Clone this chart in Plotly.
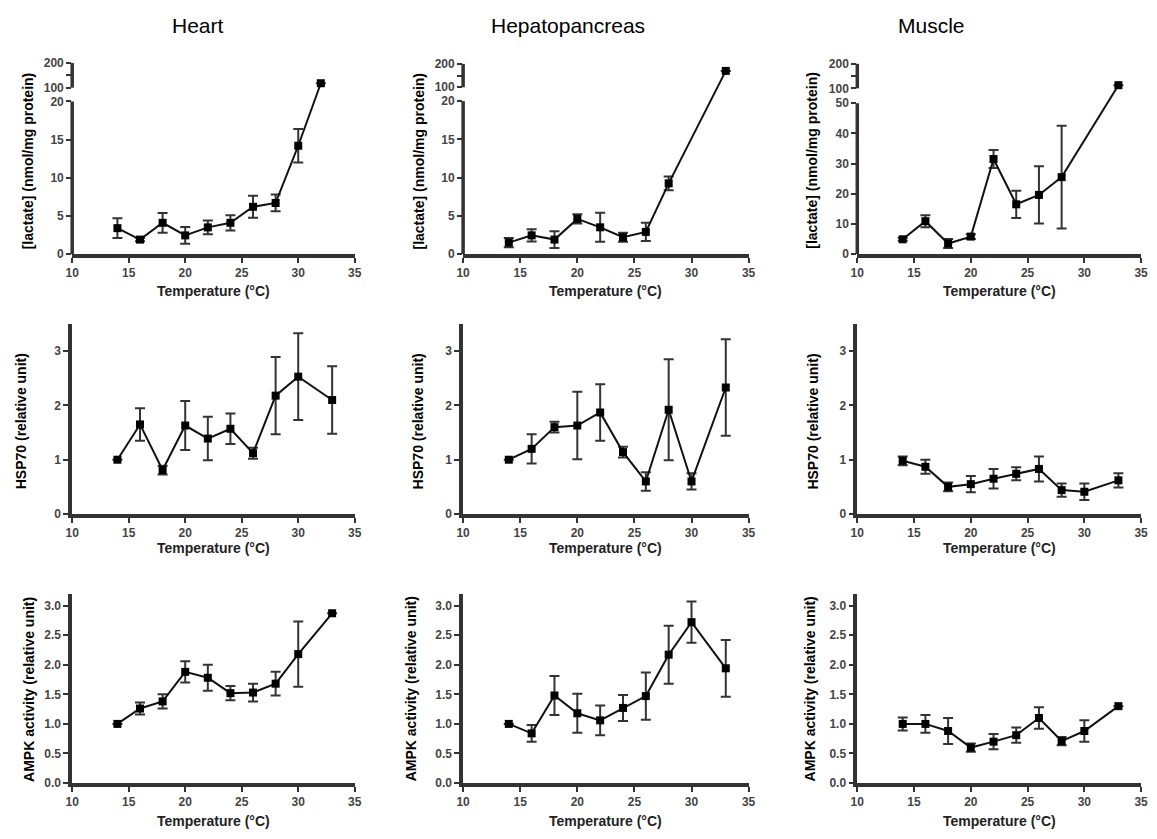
import plotly.graph_objects as go

W, H = 1157, 839

# ---------------- data ----------------
temps_std = [14, 16, 18, 20, 22, 24, 26, 28, 30, 33]

heart_lac_t = [14, 16, 18, 20, 22, 24, 26, 28, 30, 32]
heart_lac = [3.4, 1.9, 4.1, 2.45, 3.5, 4.1, 6.2, 6.7, 14.2, 118]
heart_lac_err = [1.3, 0.2, 1.3, 1.1, 0.9, 1.0, 1.45, 1.1, 2.2, 0]

hep_lac_t = [14, 16, 18, 20, 22, 24, 26, 28, 33]
hep_lac = [1.5, 2.45, 1.9, 4.6, 3.5, 2.2, 2.9, 9.25, 170]
hep_lac_err = [0.6, 0.8, 1.1, 0.6, 1.9, 0.6, 1.2, 0.9, 0]

mus_lac_t = [14, 16, 18, 20, 22, 24, 26, 28, 33]
mus_lac = [4.9, 10.9, 3.5, 5.8, 31.5, 16.5, 19.6, 25.5, 113]
mus_lac_err = [0.5, 2.0, 1.5, 0.8, 3.0, 4.5, 9.5, 17.0, 0]

heart_hsp = [1.0, 1.65, 0.81, 1.63, 1.39, 1.57, 1.12, 2.18, 2.53, 2.1]
heart_hsp_err = [0, 0.3, 0.08, 0.45, 0.4, 0.28, 0.1, 0.71, 0.8, 0.62]
hep_hsp = [1.0, 1.2, 1.6, 1.63, 1.87, 1.14, 0.6, 1.92, 0.6, 2.33]
hep_hsp_err = [0, 0.27, 0.1, 0.62, 0.52, 0.1, 0.17, 0.93, 0.15, 0.89]
mus_hsp = [0.98, 0.87, 0.5, 0.55, 0.65, 0.74, 0.83, 0.44, 0.41, 0.62]
mus_hsp_err = [0.08, 0.13, 0.08, 0.15, 0.18, 0.12, 0.23, 0.12, 0.15, 0.13]

heart_ampk = [1.0, 1.26, 1.38, 1.88, 1.78, 1.52, 1.53, 1.68, 2.18, 2.87]
heart_ampk_err = [0, 0.1, 0.12, 0.18, 0.22, 0.12, 0.15, 0.2, 0.55, 0]
hep_ampk = [1.0, 0.84, 1.48, 1.18, 1.06, 1.27, 1.47, 2.17, 2.72, 1.94]
hep_ampk_err = [0, 0.14, 0.33, 0.33, 0.25, 0.22, 0.4, 0.49, 0.35, 0.48]
mus_ampk = [1.0, 1.0, 0.88, 0.6, 0.7, 0.81, 1.1, 0.71, 0.88, 1.3]
mus_ampk_err = [0.11, 0.15, 0.22, 0.07, 0.13, 0.13, 0.18, 0.07, 0.18, 0]

col_titles = ["Heart", "Hepatopancreas", "Muscle"]
x_title = "Temperature (°C)"
y_titles = ["[lactate] (nmol/mg protein)", "HSP70 (relative unit)", "AMPK activity (relative unit)"]
x_ticks = [10, 15, 20, 25, 30, 35]

# ---------------- layout geometry (px) ----------------
col_x = [(66, 352), (461.7, 750.7), (860.7, 1148)]
row_y = [(57, 252), (323, 516), (597, 789.3)]
ytitle_x = [[21, 417, 814], [15, 417, 816], [23, 409, 813]]
ytitle_y = [157, 422, 694]
xtitle_y = [289, 551, 828]

AX = "#333333"
TICKFONT = dict(family="Liberation Sans, Arial, sans-serif", size=12, color="#444444", weight="bold")


def breaker(lo_max, gap, up_lo, up_per100):
    def f(v):
        return v if v <= lo_max else lo_max + gap + (v - up_lo) * up_per100 / 100.0
    return f


# broken-axis definitions for lactate row
breaks = [
    dict(f=breaker(20, 1.81, 100, 3.23), top=25.16, lo_max=20, lo_ticks=[0, 5, 10, 15, 20]),
    dict(f=breaker(20, 1.81, 100, 3.06), top=25.1, lo_max=20, lo_ticks=[0, 5, 10, 15, 20]),
    dict(f=breaker(50, 4.9, 100, 8.15), top=63.6, lo_max=50, lo_ticks=[0, 10, 20, 30, 40, 50]),
]

panels = [
    # row 0 lactate
    (0, 0, heart_lac_t, heart_lac, heart_lac_err),
    (0, 1, hep_lac_t, hep_lac, hep_lac_err),
    (0, 2, mus_lac_t, mus_lac, mus_lac_err),
    (1, 0, temps_std, heart_hsp, heart_hsp_err),
    (1, 1, temps_std, hep_hsp, hep_hsp_err),
    (1, 2, temps_std, mus_hsp, mus_hsp_err),
    (2, 0, temps_std, heart_ampk, heart_ampk_err),
    (2, 1, temps_std, hep_ampk, hep_ampk_err),
    (2, 2, temps_std, mus_ampk, mus_ampk_err),
]

fig = go.Figure()
layout = dict(
    width=W, height=H,
    margin=dict(l=0, r=0, t=0, b=0),
    paper_bgcolor="white", plot_bgcolor="white",
    showlegend=False,
    font=dict(family="Liberation Sans, Arial, sans-serif", color="black"),
)
annotations = []
shapes = []

for k, (r, c, tx, vals, errs) in enumerate(panels):
    idx = k + 1
    xa = "x" if idx == 1 else f"x{idx}"
    ya = "y" if idx == 1 else f"y{idx}"
    x0, x1 = col_x[c]
    top, bot = row_y[r]

    if r == 0:
        b = breaks[c]
        f = b["f"]
        yv = [f(v) for v in vals]
        ep = [f(v + e) - f(v) for v, e in zip(vals, errs)]
        em = [f(v) - f(v - e) for v, e in zip(vals, errs)]
        tickvals = [f(t) for t in b["lo_ticks"]] + [f(100), f(150), f(200)]
        ticktext = [str(t) for t in b["lo_ticks"]] + ["100", "", "200"]
        yrange = [0, b["top"]]
        showline = False
        # axis line segments (broken)
        shapes.append(dict(type="line", xref=f"{xa} domain", yref=ya, x0=0, x1=0,
                           y0=0, y1=b["lo_max"], line=dict(color=AX, width=3.5)))
        shapes.append(dict(type="line", xref=f"{xa} domain", yref=ya, x0=0, x1=0,
                           y0=f(100), y1=f(200), line=dict(color=AX, width=3.5)))
        tickformat = None
    else:
        yv = vals
        ep = errs
        em = errs
        if r == 1:
            tickvals = [0, 1, 2, 3]
            ticktext = ["0", "1", "2", "3"]
            yrange = [0, 3.5]
        else:
            tickvals = [0, 0.5, 1.0, 1.5, 2.0, 2.5, 3.0]
            ticktext = ["0.0", "0.5", "1.0", "1.5", "2.0", "2.5", "3.0"]
            yrange = [0, 3.2]
        showline = True

    fig.add_trace(go.Scatter(
        x=tx, y=yv, xaxis=xa, yaxis=ya, mode="lines+markers",
        line=dict(color="#111111", width=2),
        marker=dict(symbol="square", size=8, color="black"),
        error_y=dict(type="data", symmetric=False, array=ep, arrayminus=em,
                     color=AX, thickness=2, width=5),
        cliponaxis=False,
    ))

    layout["xaxis" if idx == 1 else f"xaxis{idx}"] = dict(
        domain=[x0 / W, x1 / W], anchor=ya, range=[10, 35],
        tickvals=x_ticks, ticktext=[str(t) for t in x_ticks],
        showline=True, linecolor=AX, linewidth=3.5,
        ticks="outside", ticklen=5, tickwidth=2, tickcolor=AX,
        tickfont=TICKFONT, showgrid=False, zeroline=False,
    )
    layout["yaxis" if idx == 1 else f"yaxis{idx}"] = dict(
        domain=[1 - bot / H, 1 - top / H], anchor=xa, range=yrange,
        tickvals=tickvals, ticktext=ticktext,
        showline=showline, linecolor=AX, linewidth=3.5,
        ticks="outside", ticklen=5, tickwidth=2, tickcolor=AX,
        tickfont=TICKFONT, showgrid=False, zeroline=False,
    )

    # axis titles
    annotations.append(dict(
        text=x_title, xref="paper", yref="paper",
        x=((x0 + x1) / 2) / W, y=1 - xtitle_y[r] / H,
        showarrow=False, xanchor="center", yanchor="middle",
        font=dict(size=14, color="#222222", weight="bold"),
    ))
    annotations.append(dict(
        text=y_titles[r], xref="paper", yref="paper",
        x=ytitle_x[r][c] / W, y=1 - ytitle_y[r] / H, textangle=-90,
        showarrow=False, xanchor="center", yanchor="middle",
        font=dict(size=14, color="black", weight="bold"),
    ))

col_title_x = [193, 568, 936]
for c in range(3):
    annotations.append(dict(
        text=col_titles[c], xref="paper", yref="paper",
        x=col_title_x[c] / W, y=1 - 20 / H, showarrow=False,
        xanchor="center", yanchor="middle",
        font=dict(size=21, color="black"),
    ))

layout["annotations"] = annotations
layout["shapes"] = shapes
fig.update_layout(**layout)
fig.write_html("out.html")
